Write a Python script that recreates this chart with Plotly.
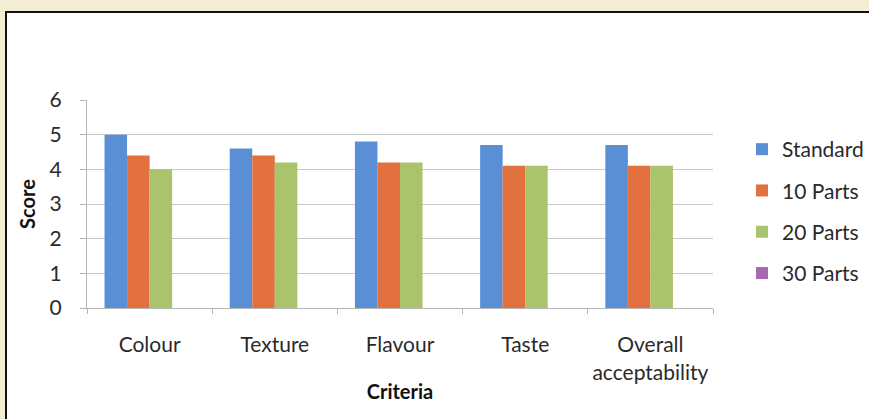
import plotly.graph_objects as go

categories = ["Colour", "Texture", "Flavour", "Taste", "Overall<br>acceptability"]
series_names = ["Standard", "10 Parts", "20 Parts", "30 Parts"]
standard = [5.0, 4.6, 4.8, 4.7, 4.7]
parts10 = [4.4, 4.4, 4.2, 4.1, 4.1]
parts20 = [4.0, 4.2, 4.2, 4.1, 4.1]
parts30 = [0, 0, 0, 0, 0]
colors = ["#5a8fd5", "#e3703f", "#a9c46c", "#a66aae"]
y_ticks = [0, 1, 2, 3, 4, 5, 6]

FONT = "Lato"
W, H = 869, 419
L, R, T, B = 87, 156, 100, 111

fig = go.Figure()
for i, (name, vals) in enumerate(zip(series_names, [standard, parts10, parts20, parts30])):
    fig.add_trace(go.Bar(
        x=categories, y=vals, name=name, legendgroup=f"g{i}",
        marker=dict(color=colors[i], line=dict(width=0)),
    ))

pw, ph = W - L - R, H - T - B
def px_x(p):
    return (p - L) / pw
def px_y(p):
    return (H - B - p) / ph

fig.update_layout(
    width=W, height=H,
    margin=dict(l=L, r=R, t=T, b=B, autoexpand=False),
    paper_bgcolor="#f3edd3",
    plot_bgcolor="white",
    barmode="group",
    bargap=0.28,
    bargroupgap=0,
    font=dict(family=FONT, size=21, color="#2a2a2a"),
    showlegend=True,
    legend=dict(
        x=px_x(742), y=px_y(129), xanchor="left", yanchor="top",
        font=dict(family=FONT, size=21, color="#2a2a2a"),
        tracegroupgap=11, bgcolor="rgba(0,0,0,0)", borderwidth=0,
        itemwidth=30,
    ),
    shapes=[dict(
        type="rect", xref="paper", yref="paper", layer="below",
        x0=px_x(6), x1=px_x(900), y0=px_y(440), y1=px_y(12),
        fillcolor="white", line=dict(color="#111111", width=2),
    )],
)

fig.update_xaxes(
    showgrid=False, showline=True, linecolor="#b5b5b5", linewidth=1,
    ticks="outside", ticklen=5, tickcolor="#b5b5b5", tickson="boundaries",
    ticklabelstandoff=18,
    tickfont=dict(family=FONT, size=21, color="#2a2a2a"),
    title=dict(text="<b>Criteria</b>", font=dict(family=FONT, size=20, color="#111"), standoff=2),
    automargin=False,
)
fig.update_yaxes(
    range=[0, 6], tickvals=y_ticks, showgrid=True, gridcolor="#c9c9c9", gridwidth=1,
    showline=True, linecolor="#b5b5b5", linewidth=1,
    ticks="outside", ticklen=6, tickcolor="#b5b5b5",
    ticklabelstandoff=14,
    tickfont=dict(family=FONT, size=21, color="#2a2a2a"),
    title=dict(text="<b>Score</b>", font=dict(family=FONT, size=20, color="#111"), standoff=8),
    zeroline=False, automargin=False,
)

fig.write_html("out.html")
